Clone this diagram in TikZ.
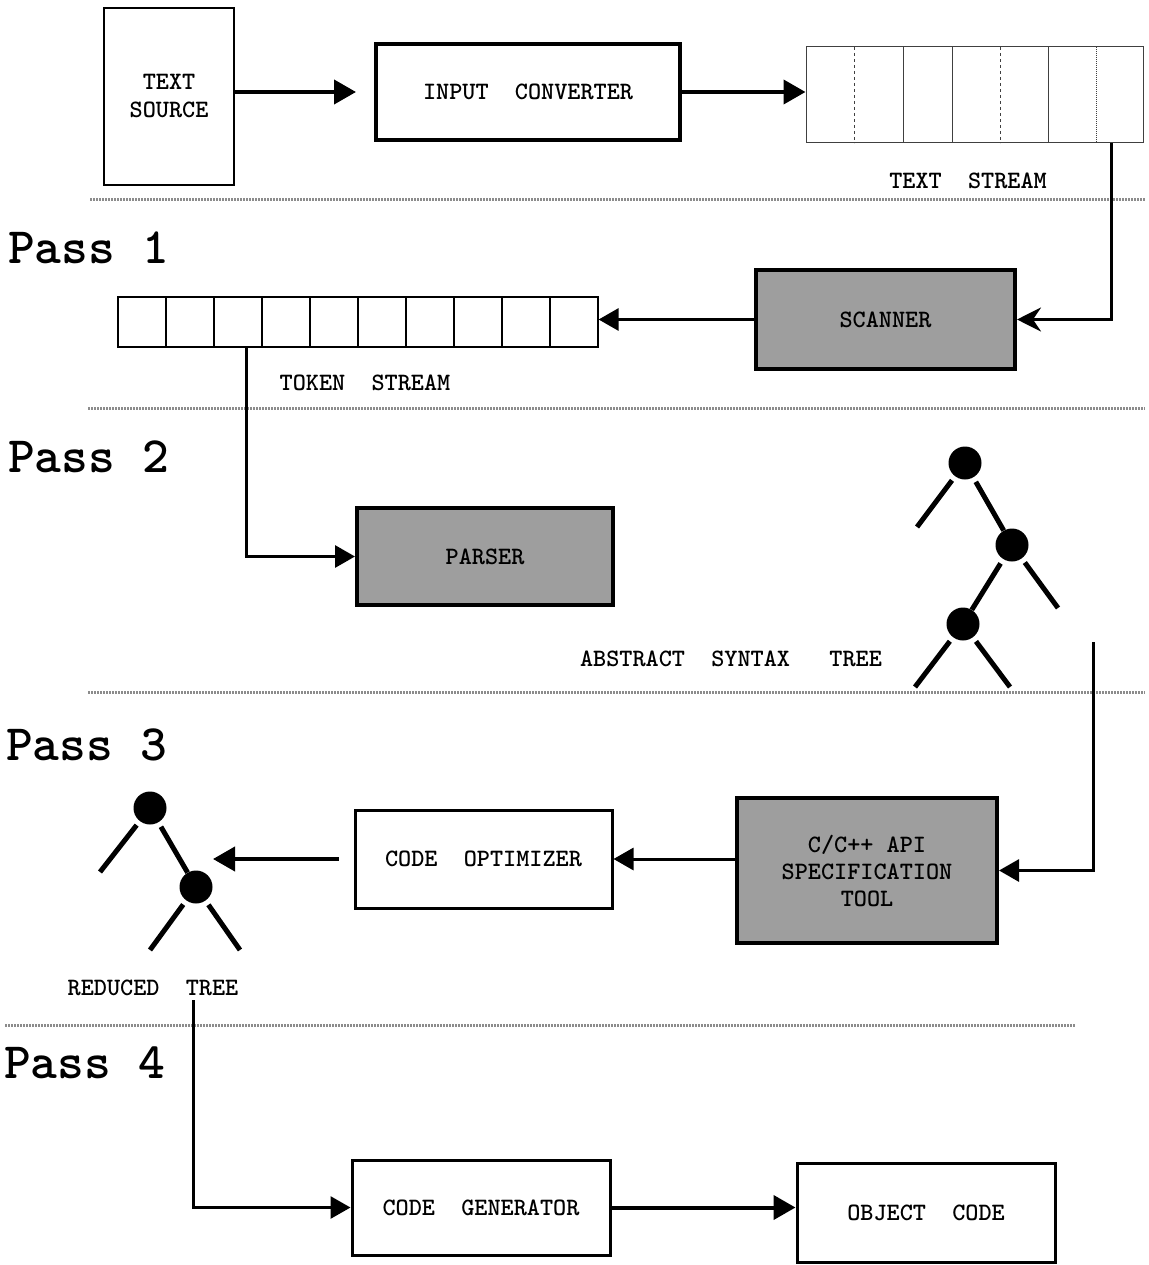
\documentclass[tikz,border=0pt]{standalone}
\usepackage{fontspec}
\usetikzlibrary{arrows.meta}
\begin{document}
\begin{tikzpicture}[x=1pt,y=-1pt,
  txt/.style={font=\ttfamily\bfseries\fontsize{25}{28}\selectfont},
  lbl/.style={txt, inner sep=0pt},
  thinbox/.style={txt, draw, line width=1.5pt, inner sep=0pt, align=center},
  midbox/.style={txt, draw, line width=3pt, inner sep=0pt, align=center},
  thickbox/.style={txt, draw, line width=4pt, inner sep=0pt, align=center},
  shadebox/.style={thickbox, fill=black!38, font=\ttfamily\bfseries\fontsize{25}{27}\selectfont},
  arr/.style={line width=4pt, -{Triangle[length=22pt,width=24pt]}},
  conn/.style={line width=3pt, -{Triangle[length=20pt,width=22pt]}},
  sep/.style={line width=3pt, draw=black!45, dash pattern=on 1.5pt off 1.5pt},
  pass/.style={font=\ttfamily\bfseries\fontsize{51}{53}\selectfont, anchor=west, inner sep=0pt},
  dot/.style={circle, fill, inner sep=0pt, minimum size=33pt},
  branch/.style={line width=5pt, shorten <=5pt},
  cell/.style={line width=1pt, draw=black!75}
]
\fill[white] (0,0) rectangle (1148,1265);
\useasboundingbox (0,0) rectangle (1148,1265);

% separators
\draw[sep] (90,200) -- (1145,200);
\draw[sep] (88,408) -- (1145,408);
\draw[sep] (88,692) -- (1145,692);
\draw[sep] (5,1025) -- (1075,1025);

% pass labels
\node[pass] (p1) at (8,248) {Pass 1};
\node[pass] (p2) at (8,457) {Pass 2};
\node[pass] (p3) at (6,745) {Pass 3};
\node[pass] (p4) at (4,1063) {Pass 4};

% top row
\node[thinbox, minimum width=130, minimum height=177] (src) at (169,96.5) {TEXT\\SOURCE};
\node[thickbox, minimum width=304, minimum height=96] (inconv) at (528,92) {INPUT~~CONVERTER};
\node[cell, minimum width=337, minimum height=96, inner sep=0pt] (ts) at (974.5,95) {};
\draw[cell, dashed] (854,47) -- (854,143);
\draw[cell] (903,47) -- (903,143);
\draw[cell] (952,47) -- (952,143);
\draw[cell, dashed] (1000,47) -- (1000,143);
\draw[cell] (1048,47) -- (1048,143);
\draw[cell, densely dotted] (1096,47) -- (1096,143);
\node[lbl] (tslbl) at (968,181) {TEXT~~STREAM};

\draw[arr, shorten >=18pt] (src.east |- inconv.west) -- (inconv.west);
\draw[arr] (inconv.east) -- (inconv.east -| ts.west);

% pass 1
\node[shadebox, minimum width=259, minimum height=99] (scan) at (885.5,319.5) {SCANNER};
\coordinate (tsout) at (1111,143);
\draw[line width=3pt, -{Stealth[length=24pt,width=24pt,inset=8pt]}] (tsout) |- (scan.east);

\node[draw, line width=1.2pt, minimum width=480, minimum height=50, inner sep=0pt] (tok) at (358,322) {};
\foreach \i in {1,...,9} \draw[line width=1.2pt] (118+48*\i,297) -- (118+48*\i,347);
\node[lbl] (toklbl) at (365,383) {TOKEN~~STREAM};
\draw[conn] (scan.west) -- (scan.west -| tok.east);

% pass 2
\coordinate (tokout) at (246,347);
\node[shadebox, minimum width=256, minimum height=97] (parser) at (485,556.5) {PARSER};
\draw[conn] (tokout) |- (parser.west);

\node[dot] (a1) at (965,463) {};
\node[dot] (a2) at (1012,545) {};
\node[dot] (a3) at (963,624) {};
\coordinate (l1) at (917,527);
\coordinate (l2) at (1058,608);
\coordinate (l3) at (915,687);
\coordinate (l4) at (1010,687);
\draw[branch] (a1) -- (l1);
\draw[branch] (a1) -- (a2);
\draw[branch] (a2) -- (a3);
\draw[branch] (a2) -- (l2);
\draw[branch] (a3) -- (l3);
\draw[branch] (a3) -- (l4);
\node[lbl] (astlbl) at (731,659) {ABSTRACT~~SYNTAX~~~TREE};

% pass 3
\coordinate (astout) at (1093,642);
\node[shadebox, minimum width=260, minimum height=145] (api) at (867,870.5) {C/C++ API\\SPECIFICATION\\TOOL};
\draw[conn] (astout) |- (api.east);

\node[midbox, minimum width=257, minimum height=98] (opt) at (483.5,859) {CODE~~OPTIMIZER};
\draw[conn] (api.west |- opt.east) -- (opt.east);

\node[dot] (r1) at (150,808) {};
\node[dot] (r2) at (196,887) {};
\coordinate (rl1) at (100,872);
\coordinate (rl2) at (150,950);
\coordinate (rl3) at (240,950);
\draw[branch] (r1) -- (rl1);
\draw[branch] (r1) -- (r2);
\draw[branch] (r2) -- (rl2);
\draw[branch] (r2) -- (rl3);
\coordinate (rtin) at (213,859);
\draw[arr, shorten <=15pt] (opt.west) -- (rtin);
\node[lbl] (rtlbl) at (153,988) {REDUCED~~TREE};

% pass 4
\coordinate (rtout) at (193,1000);
\node[midbox, minimum width=258, minimum height=95] (gen) at (481,1207.5) {CODE~~GENERATOR};
\node[midbox, minimum width=258, minimum height=99] (obj) at (926,1212.5) {OBJECT~~CODE};
\draw[conn] (rtout) |- (gen.west);
\draw[arr] (gen.east) -- (gen.east -| obj.west);
\end{tikzpicture}
\end{document}
